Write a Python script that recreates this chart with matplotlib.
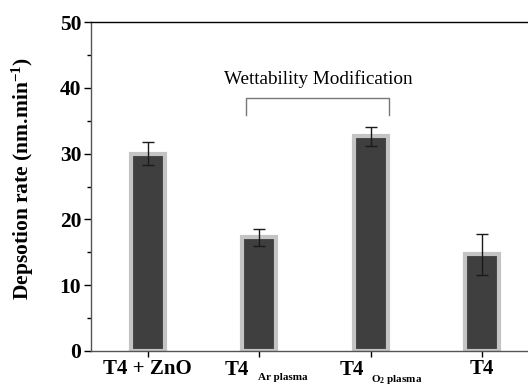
import numpy as np
import matplotlib
matplotlib.use("Agg")
import matplotlib.pyplot as plt
from matplotlib.ticker import MultipleLocator
import matplotlib.transforms as mtransforms

plt.rcParams['font.family'] = 'Liberation Serif'
plt.rcParams['mathtext.fontset'] = 'custom'
plt.rcParams['mathtext.rm'] = 'Liberation Serif:bold'
plt.rcParams['mathtext.bf'] = 'Liberation Serif:bold'
plt.rcParams['mathtext.it'] = 'Liberation Serif:bold'

# data
samples = ["T4 + ZnO", "T4 Ar plasma", "T4 O2 plasma", "T4"]
rates = [30.0, 17.3, 32.6, 14.7]
errors = [1.7, 1.3, 1.5, 3.1]
bracket_label = "Wettability Modification"

fig = plt.figure(figsize=(5.28, 3.87), dpi=100)
ax = fig.add_axes([91 / 528, 1 - 351 / 387, 1 - 91 / 528, (351 - 22) / 387])

x = np.arange(len(samples))
ax.bar(x, rates, width=0.305, color='#3f3f3f', edgecolor='#c4c4c4', linewidth=3.0, zorder=2)
ax.errorbar(x, rates, yerr=errors, fmt='none', ecolor='#1a1a1a', elinewidth=1.0,
            capsize=4, capthick=1.0, zorder=3)

ax.set_xlim(-0.51, 3.41)
ax.set_ylim(0, 50)
ax.yaxis.set_major_locator(MultipleLocator(10))
ax.yaxis.set_minor_locator(MultipleLocator(5))
ax.tick_params(axis='y', which='major', direction='out', length=5, width=1, labelsize=15.5, pad=2)
ax.tick_params(axis='y', which='minor', direction='out', length=3, width=1)
ax.tick_params(axis='x', direction='out', length=4, width=1, labelsize=15, pad=2)
for lab in ax.get_yticklabels():
    lab.set_fontweight('bold')

ax.spines['right'].set_visible(False)
for s in ['left', 'top', 'bottom']:
    ax.spines[s].set_linewidth(1.0)
ax.spines['left'].set_color('#555555')
ax.spines['bottom'].set_color('#555555')

ax.set_xticks(x)
ax.set_xticklabels(["T4 + ZnO", "", "", "T4"], fontweight='bold')

# subscripted labels drawn by hand
trans = mtransforms.blended_transform_factory(ax.transData, ax.transAxes)
ax.text(1 - 0.09, -0.026, "T4", transform=trans, ha='right', va='top',
        fontsize=15, fontweight='bold')
ax.text(1 - 0.01, -0.068, "Ar plasma", transform=trans, ha='left', va='top',
        fontsize=8, fontweight='bold')
ax.text(2 - 0.06, -0.026, "T4", transform=trans, ha='right', va='top',
        fontsize=15, fontweight='bold')
ax.text(2, -0.068, r"O$_{2}$ plasma", transform=trans, ha='left', va='top',
        fontsize=8, fontweight='bold')

ax.set_ylabel(r"Depsotion rate (nm.min$^{\mathbf{-1}}$)", fontsize=15.5, fontweight='bold')
ax.yaxis.set_label_coords(-0.125, 0.525)

# bracket over the plasma-treated samples
ax.plot([0.88, 0.88, 2.16, 2.16], [35.9, 38.4, 38.4, 35.9], color='#777777', lw=1.0)
ax.text(1.53, 41.4, bracket_label, ha='center', va='center', fontsize=13.8)

fig.savefig("out.png", dpi=100)
